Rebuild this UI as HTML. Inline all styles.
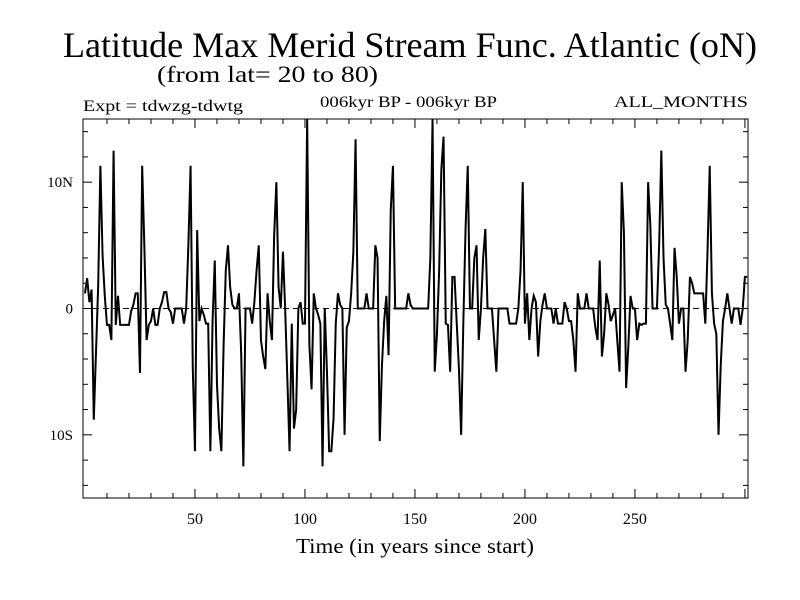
<!DOCTYPE html>
<html><head><meta charset="utf-8"><style>
html,body{margin:0;padding:0;background:#fff;}
svg{display:block;font-family:"Liberation Serif",serif;}
</style></head><body>
<svg id="chart" width="800" height="600" viewBox="0 0 800 600">
<rect x="0" y="0" width="800" height="600" fill="#fff"/>
<text x="63" y="57" font-size="36" textLength="694" lengthAdjust="spacingAndGlyphs">Latitude Max Merid Stream Func. Atlantic (oN)</text>
<text x="157" y="82" font-size="23" textLength="221" lengthAdjust="spacingAndGlyphs">(from lat= 20 to 80)</text>
<text x="83" y="111" font-size="16" textLength="160" lengthAdjust="spacingAndGlyphs">Expt = tdwzg-tdwtg</text>
<text x="320" y="107" font-size="16" textLength="177" lengthAdjust="spacingAndGlyphs">006kyr BP - 006kyr BP</text>
<text x="614" y="107" font-size="16" textLength="134" lengthAdjust="spacingAndGlyphs">ALL_MONTHS</text>
<g id="axes"></g>
<path id="series" fill="none" stroke="#000" stroke-width="2" stroke-linejoin="miter"/>
<rect x="83" y="119" width="665" height="379" fill="none" stroke="#000" stroke-width="1"/>
<text x="415" y="553" font-size="21" text-anchor="middle" textLength="238" lengthAdjust="spacingAndGlyphs">Time (in years since start)</text>
</svg>
<script>
const years0 = 0;
const values = [
1.2,2.4,0.5,1.5,-8.8,-3.5,1.8,11.3,4.2,1,-1.3,-1.3,-2.5,12.5,-1.3,1,-1.3,-1.3,-1.3,-1.3,
-1.3,-0.2,0.3,1.2,1.2,-5.1,11.3,4.9,-2.5,-1.3,-1,0,-1.3,-1.3,0,0.5,1.3,1.3,0,-0.3,
-1.2,0,0,0,0,-1.2,0,5,11.3,-4.7,-11.3,6.2,-1,0,-0.5,-1.2,-1.2,-11.3,-1,3.8,
-6,-9.5,-11.3,-3,3,5,1.7,0.3,0,0,1.2,-3.5,-12.5,0,0,0,-1.2,0.5,3,5,
-2.5,-3.8,-4.8,1.2,-1,-2.5,5.8,10,1.7,0,4.5,0,-5.6,-11.3,-1.2,-9.5,-8,0,0.5,-1.2,
-1.2,15,-2.8,-6.4,1.2,0,-0.5,-1.2,-12.5,0,-5,-11.3,-11.3,-8.7,-1.2,1.2,0.3,0,-10,-1.5,
-1,1.2,4.5,13.4,0,0,0,0,1.2,0,0,0,5,4,-10.5,-4.5,-1,1,-3.7,7.8,
11.3,0,0,0,0,0,0,1.2,0.3,0,0,0,0,0,0,0,0,4,15,-5,
-2,3,11,13.6,-1.2,-1.3,-5,2.5,2.5,-1.2,-4.8,-10,-1,6.3,11.3,0,0,4,5,-2.5,
0,4,6.3,0,0,0,-2.5,-5,0,0,0,0,0,-1.2,-1.2,-1.2,-1.2,0,3,10,
-1.2,1.2,-2.5,0,1,0.5,-3.8,-1,0.3,1.2,0,0,0,-1.2,0,-1.2,-1.2,-1.2,0.5,0,
-1,-1,-2.5,-5,1.2,0,0,0,1.2,0,0,0,-1.5,-2.5,3.8,-3.8,-2,1.2,0.3,-1,
-0.5,0,-2.6,-5,10,6,-6.3,-3,1,0,0,-2.5,-1.2,-1.3,-1.2,-1.2,10,6.6,0,0,
0,5,12.5,4,0.3,0,-1.2,-2.5,4.8,2.5,-1.2,0,0,-5,-2.5,2.5,2,1.2,1.2,1.2,
1.2,1.2,-1.2,4.5,11.3,1.2,-1.2,-2,-10,-4.5,-1,0,1.2,0,-1.2,0,0,0,-1.3,0,
2.5,2.5];
const xTicks = [50,100,150,200,250];
const yTicks = [-10,0,10];
const yTickLabels = ["10S","0","10N"];

const X0=83,X1=748,Y0=119,Y1=498, XMIN=-0.9, XMAX=301.4, YMIN=-15, YMAX=15;
const xs = t => X0 + (t-XMIN)/(XMAX-XMIN)*(X1-X0);
const ys = v => Y1 - (v-YMIN)/(YMAX-YMIN)*(Y1-Y0);
const NS="http://www.w3.org/2000/svg";
const axes=document.getElementById('axes');
function mk(tag,attrs){const e=document.createElementNS(NS,tag);for(const k in attrs)e.setAttribute(k,attrs[k]);axes.appendChild(e);return e;}

// zero dashed line
const z=mk('line',{x1:X0,x2:X1,y1:ys(0),y2:ys(0),stroke:'#000','stroke-width':1,'stroke-dasharray':'6,4'});



// x ticks
for(let t=10;t<=300;t+=10){
  const major = t%50===0;
  const L = major?9:5;
  const a=mk('line',{x1:xs(t),x2:xs(t),y1:Y1,y2:Y1-L,stroke:'#000','stroke-width':1});
  
  
  const b=mk('line',{x1:xs(t),x2:xs(t),y1:Y0,y2:Y0+L,stroke:'#000','stroke-width':1});
  
  
}
xTicks.forEach(t=>{
  const tx=mk('text',{x:xs(t),y:524,'font-size':16,'text-anchor':'middle'});
  tx.textContent=String(t);
  
  
});
// y ticks
for(let v=-14;v<=14;v+=2){
  const major = v%10===0;
  const L = major?9:5;
  const a=mk('line',{x1:X0,x2:X0+L,y1:ys(v),y2:ys(v),stroke:'#000','stroke-width':1});
  
  
  const b=mk('line',{x1:X1,x2:X1-L,y1:ys(v),y2:ys(v),stroke:'#000','stroke-width':1});
  
  
}
yTicks.forEach((v,i)=>{
  const tx=mk('text',{x:73,y:ys(v)+5,'font-size':15,'text-anchor':'end'});
  tx.textContent=yTickLabels[i];
  
  
});

// series
let d='';
values.forEach((v,i)=>{
  const vv=Math.max(YMIN,Math.min(YMAX,v));
  d+=(i?'L':'M')+xs(years0+i).toFixed(2)+' '+ys(vv).toFixed(2);
});
document.getElementById('series').setAttribute('d',d);
</script>
</body></html>
